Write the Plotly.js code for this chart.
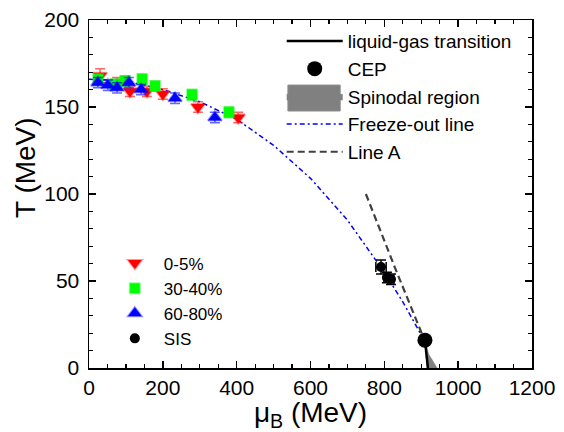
<!DOCTYPE html>
<html>
<head>
<meta charset="utf-8">
<script src="https://cdn.plot.ly/plotly-3.0.1.min.js"></script>
<style>html,body{margin:0;padding:0;background:#fff;}#chart{width:564px;height:432px;}</style>
</head>
<body>
<div id="chart"></div>
<script>
// ---- data ----
const mu_0_5   = [30, 76, 111, 157, 200, 295, 404];
const T_0_5    = [168, 164, 159, 159, 157.5, 150, 144];
const eT_0_5   = [4, 3, 3, 3, 3, 3, 3];

const mu_30_40 = [25, 70, 98, 144, 179, 279, 379];
const T_30_40  = [166, 163, 165, 166, 162, 157, 147];
const eT_30_40 = [3, 3, 3, 3, 3, 3, 3];

const mu_60_80 = [24, 51, 76, 108, 141, 233, 341];
const T_60_80  = [164, 162.5, 161, 164, 160, 155, 144];
const eT_60_80 = [3, 3, 3, 3, 3, 3, 3];

const mu_SIS   = [791, 807, 818];
const T_SIS    = [58, 52, 51];
const eT_SIS   = [4, 3, 3];
const eMu_SIS  = [14, 8, 8];

const mu_CEP = [910];
const T_CEP  = [16];

const mu_LG = [910, 913, 916, 918];
const T_LG  = [16, 10, 5, 0];

const mu_spin = [910, 912, 914, 916, 930, 943, 920, 910];
const T_spin  = [16, 10, 5, 0, 0, 0, 8, 16];

const mu_FO = [0, 100, 200, 300, 400, 500, 600, 700, 800, 850, 900, 915];
const T_FO  = [166, 165, 160, 153, 143, 128, 109, 85, 55, 38, 19, 13];

const mu_A = [750, 830, 905];
const T_A  = [100, 57, 18];

const xTicks = [0, 200, 400, 600, 800, 1000, 1200];
const yTicks = [0, 50, 100, 150, 200];

// ---- traces ----
const FONT = 'Liberation Sans, Arial, sans-serif';
function errBar(arr, col){ return {type:'data', array:arr, visible:true, color:col, thickness:1.5, width:5}; }

const traces = [
  {x: mu_spin, y: T_spin, mode:'lines', fill:'toself', fillcolor:'#808080', line:{color:'#808080', width:0.5},
   name:'Spinodal region', legend:'legend', legendrank:3},
  {x: mu_LG, y: T_LG, mode:'lines', line:{color:'#000', width:2.5}, name:'liquid-gas transition', legend:'legend', legendrank:1},
  {x: mu_FO, y: T_FO, mode:'lines', line:{color:'#0000ff', width:1.5, dash:'5px,3px,2px,3px'}, name:'Freeze-out line', legend:'legend', legendrank:4},
  {x: mu_A, y: T_A, mode:'lines', line:{color:'#404040', width:2.2, dash:'7px,4px'}, name:'Line A', legend:'legend', legendrank:5},
  {x: mu_0_5, y: T_0_5, mode:'markers', error_y: errBar(eT_0_5,'rgba(255,0,0,0.6)'),
   marker:{symbol:'triangle-down', size:12, color:'#ff0000', line:{color:'rgba(255,0,0,0.4)', width:2}}, name:'0-5%', legend:'legend2', legendrank:1},
  {x: mu_30_40, y: T_30_40, mode:'markers', error_y: errBar(eT_30_40,'rgba(0,220,0,0.6)'),
   marker:{symbol:'square', size:10, color:'#00ff00', line:{color:'rgba(0,255,0,0.4)', width:2}}, name:'30-40%', legend:'legend2', legendrank:2},
  {x: mu_60_80, y: T_60_80, mode:'markers', error_y: errBar(eT_60_80,'rgba(0,0,255,0.6)'),
   marker:{symbol:'triangle-up', size:12, color:'#0000ff', line:{color:'rgba(0,0,255,0.4)', width:2}}, name:'60-80%', legend:'legend2', legendrank:3},
  {x: mu_SIS, y: T_SIS, mode:'markers', error_y: errBar(eT_SIS,'#000'), error_x: errBar(eMu_SIS,'#000'),
   marker:{symbol:'circle', size:10, color:'#000'}, name:'SIS', legend:'legend2', legendrank:4},
  {x: mu_CEP, y: T_CEP, mode:'markers', marker:{symbol:'circle', size:15, color:'#000'}, name:'CEP', legend:'legend', legendrank:2}
];

const axisCommon = {
  showgrid:false, zeroline:false, showline:true, linecolor:'#000', linewidth:1.5,
  ticks:'inside', ticklen:7, tickwidth:1.5, tickcolor:'#000', mirror:'allticks',
  tickfont:{family:FONT, size:21, color:'#000'}
};

const layout = {
  width:564, height:432,
  margin:{l:89, r:32, t:20, b:64},
  paper_bgcolor:'#fff', plot_bgcolor:'#fff',
  font:{family:FONT, color:'#000'},
  xaxis: Object.assign({}, axisCommon, {
    range:[0,1200], tickvals:xTicks, ticktext:xTicks.map(String),
    minor:{dtick:50, ticks:'inside', ticklen:4, tickwidth:1.2, tickcolor:'#000'},
    title:{text:'μ<sub>B</sub> (MeV)', font:{family:FONT, size:28, color:'#000'}, standoff:5}
  }),
  yaxis: Object.assign({}, axisCommon, {
    range:[0,200], tickvals:yTicks, ticktext:yTicks.map(String), ticklabelstandoff:4,
    minor:{dtick:10, ticks:'inside', ticklen:4, tickwidth:1.2, tickcolor:'#000'}
  }),
  annotations:[
    {text:'T (MeV)', textangle:-90, xref:'paper', yref:'paper', x:-0.142, y:0.575,
     xanchor:'center', yanchor:'middle', showarrow:false, font:{family:FONT, size:28, color:'#000'}}
  ],
  shapes:[
    {type:'rect', xref:'paper', yref:'paper', x0:0.449, x1:0.567, y0:0.7385, y1:0.813,
     fillcolor:'#808080', line:{color:'#8c8c8c', width:1}, layer:'above'}
  ],
  legend:{x:0.435, y:0.994, xanchor:'left', yanchor:'top', bgcolor:'rgba(0,0,0,0)', borderwidth:0,
          font:{family:FONT, size:19, color:'#000'}, itemwidth:56, tracegroupgap:0},
  legend2:{x:0.038, y:0.352, xanchor:'left', yanchor:'top', bgcolor:'rgba(0,0,0,0)', borderwidth:0,
          font:{family:FONT, size:17, color:'#000'}, itemwidth:48, tracegroupgap:0},
  showlegend:true
};

Plotly.newPlot('chart', traces, layout, {displayModeBar:false, staticPlot:true});
</script>
</body>
</html>
